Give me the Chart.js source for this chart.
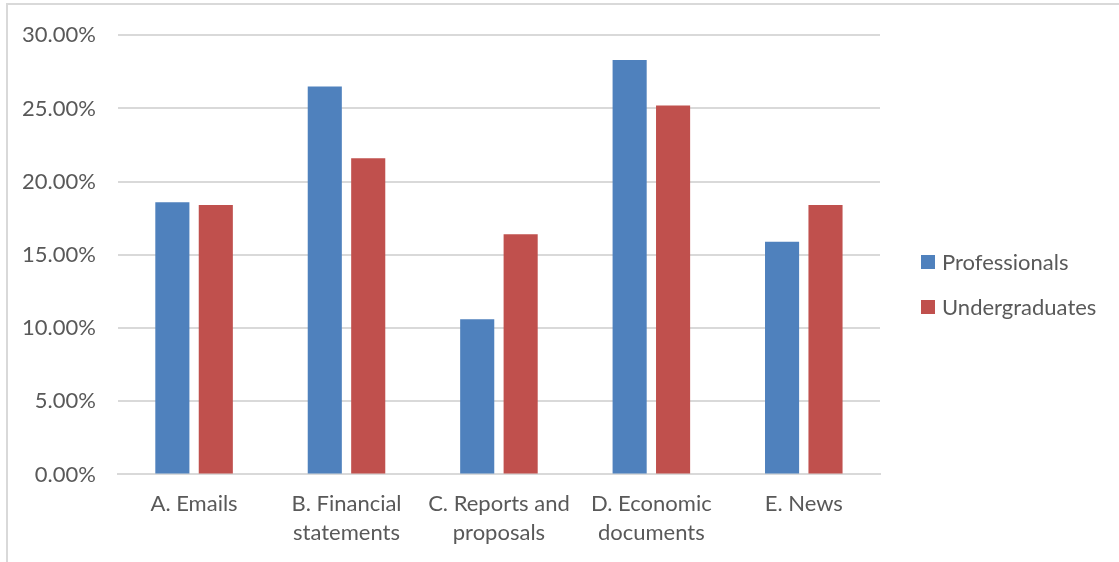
<!DOCTYPE html>
<html>
<head>
<meta charset="utf-8">
<script src="https://cdn.jsdelivr.net/npm/chart.js@4/dist/chart.umd.min.js"></script>
<style>
    html, body { margin: 0; padding: 0; background: #fff; }
    #wrap { position: relative; width: 1119px; height: 562px; overflow: hidden; }
    #frame { position: absolute; left: 6px; top: 3px; width: 1200px; height: 700px; border: 2px solid #d9d9d9; box-sizing: border-box; }
    #chart { position: absolute; left: 0; top: 0; }
    #legend { position: absolute; left: 921px; top: 245px; font-family: Lato, sans-serif; font-size: 22px; color: #595959; }
    .legend-item { display: flex; align-items: center; height: 33px; margin-bottom: 12px; }
    .legend-box { width: 14px; height: 14px; margin-right: 7px; }
</style>
</head>
<body>
<div id="wrap">
    <div id="frame"></div>
    <canvas id="chart" width="1119" height="562"></canvas>
    <div id="legend"></div>
</div>
<script>
const categories = [
    ['A. Emails'],
    ['B. Financial', 'statements'],
    ['C. Reports and', 'proposals'],
    ['D. Economic', 'documents'],
    ['E. News']
];
const professionals = [18.6, 26.5, 10.6, 28.3, 15.9];
const undergraduates = [18.4, 21.6, 16.4, 25.2, 18.4];
const seriesNames = ['Professionals', 'Undergraduates'];
const seriesColors = ['#4f81bd', '#c0504d'];

const textColor = '#595959';
const gridColor = '#d9d9d9';
const font = { family: 'Lato, sans-serif', size: 22 };

const chart = new Chart(document.getElementById('chart'), {
    type: 'bar',
    data: {
        labels: categories,
        datasets: [
            { label: seriesNames[0], data: professionals, backgroundColor: seriesColors[0] },
            { label: seriesNames[1], data: undergraduates, backgroundColor: seriesColors[1] }
        ]
    },
    options: {
        responsive: false,
        animation: false,
        layout: { padding: { top: 16, left: 0, right: 239, bottom: 0 } },
        datasets: { bar: { categoryPercentage: 0.57, barPercentage: 0.785 } },
        plugins: { legend: { display: false }, tooltip: { enabled: false } },
        scales: {
            x: {
                grid: { display: false, drawTicks: false },
                border: { display: true, color: gridColor, width: 2 },
                ticks: { color: textColor, font: { ...font, lineHeight: 1.33 }, padding: 14.5, maxRotation: 0 }
            },
            y: {
                min: 0,
                max: 30,
                grid: { color: gridColor, lineWidth: 2, drawTicks: false },
                border: { display: false },
                ticks: { stepSize: 5, color: textColor, font: font, padding: 22, callback: (v) => v.toFixed(2) + '%' }
            }
        }
    }
});

// legend drawn beside the plot from the dataset labels
document.getElementById('legend').innerHTML = chart.data.datasets.map(ds => `
    <div class="legend-item"><div class="legend-box" style="background:${ds.backgroundColor}"></div>${ds.label}</div>
`).join('');
</script>
</body>
</html>
